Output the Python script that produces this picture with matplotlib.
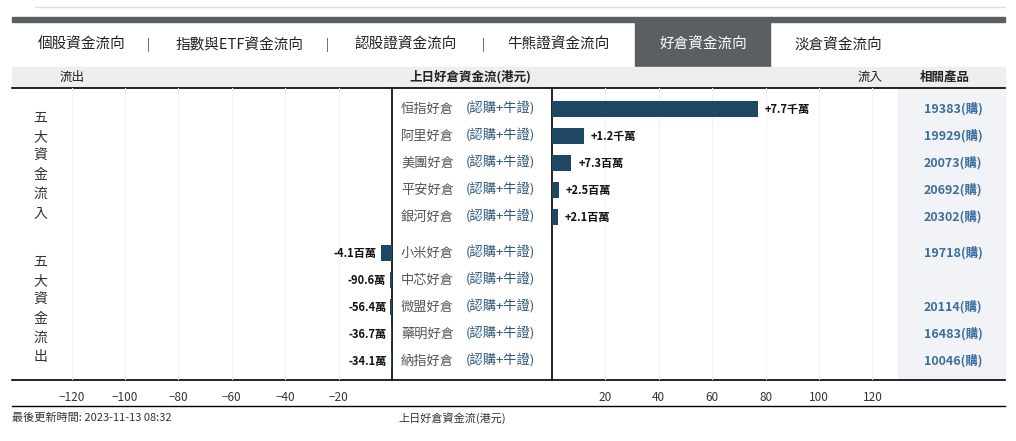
import matplotlib
matplotlib.use("Agg")
import matplotlib.pyplot as plt
from matplotlib.patches import Rectangle

plt.rcParams["font.family"] = ["Noto Sans CJK TC", "DejaVu Sans"]

W, H = 1016, 441

tabs = ["個股資金流向", "指數與ETF資金流向", "認股證資金流向", "牛熊證資金流向", "好倉資金流向", "淡倉資金流向"]
tab_x = [82, 240, 406, 558, 703, 838]
active_tab = 4

in_names = ["恒指好倉", "阿里好倉", "美團好倉", "平安好倉", "銀河好倉"]
in_values = [77.0, 12.0, 7.3, 2.5, 2.1]          # 百萬港元
in_labels = ["+7.7千萬", "+1.2千萬", "+7.3百萬", "+2.5百萬", "+2.1百萬"]
in_products = ["19383(購)", "19929(購)", "20073(購)", "20692(購)", "20302(購)"]

out_names = ["小米好倉", "中芯好倉", "微盟好倉", "藥明好倉", "納指好倉"]
out_values = [-4.1, -0.906, -0.564, -0.367, -0.341]
out_labels = ["-4.1百萬", "-90.6萬", "-56.4萬", "-36.7萬", "-34.1萬"]
out_products = ["19718(購)", "", "20114(購)", "16483(購)", "10046(購)"]

left_ticks = [-120, -100, -80, -60, -40, -20]
right_ticks = [20, 40, 60, 80, 100, 120]

BAR = "#1e4763"
BLUE = "#3d6f9c"

fig = plt.figure(figsize=(W / 100, H / 100), dpi=100)
bg = fig.add_axes([0, 0, 1, 1])
bg.set_xlim(0, W)
bg.set_ylim(H, 0)
bg.axis("off")

# top decorations
bg.plot([35, 1005], [7, 7], color="#dddddd", lw=1)
bg.add_patch(Rectangle((12, 17), 993, 5, color="#5a5f63"))
bg.add_patch(Rectangle((635, 22), 135, 45, color="#5a5f63"))
for i, (t, x) in enumerate(zip(tabs, tab_x)):
    bg.text(x, 45, t, ha="center", va="center", fontsize=10.5,
            color="white" if i == active_tab else "#222222")
for x in [148, 327, 483]:
    bg.text(x, 45, "|", ha="center", va="center", fontsize=9, color="#444444")

# header strip
bg.add_patch(Rectangle((12, 67), 993, 20, color="#eeeeee"))
bg.text(72, 77, "流出", ha="center", va="center", fontsize=9, color="#222222")
bg.text(470, 77, "上日好倉資金流(港元)", ha="center", va="center", fontsize=9, weight="bold", color="#222222")
bg.text(870, 77, "流入", ha="center", va="center", fontsize=9, color="#222222")
bg.text(945, 77, "相關產品", ha="center", va="center", fontsize=9, weight="bold", color="#222222")
bg.add_patch(Rectangle((898, 88), 107, 292, color="#f1f3f6"))
bg.plot([12, 1005], [88, 88], color="black", lw=1.2)
bg.plot([12, 1005], [380, 380], color="black", lw=1.2)
bg.plot([12, 1005], [406, 406], color="black", lw=1)
bg.plot([392, 392], [88, 380], color="black", lw=1.2)
bg.plot([552, 552], [88, 380], color="black", lw=1.2)

# group labels
for j, ch in enumerate("五大資金流入"):
    bg.text(40, 118 + j * 19, ch, ha="center", va="center", fontsize=10, color="#333333")
for j, ch in enumerate("五大資金流出"):
    bg.text(40, 262 + j * 19, ch, ha="center", va="center", fontsize=10, color="#333333")

# row positions (pixel y)
in_y = [109 + 27 * i for i in range(len(in_values))]
out_y = [253 + 27 * i for i in range(len(out_values))]

# data axes: left (outflow) and right (inflow), 2.67 px per unit
lx0, lx1 = 40, 392
rx0, rx1 = 552, 895
scale = 2.67
axl = fig.add_axes([lx0 / W, 1 - 380 / H, (lx1 - lx0) / W, 292 / H])
axr = fig.add_axes([rx0 / W, 1 - 380 / H, (rx1 - rx0) / W, 292 / H])
axl.set_xlim(-(lx1 - lx0) / scale, 0)
axr.set_xlim(0, (rx1 - rx0) / scale)
for ax in (axl, axr):
    ax.set_ylim(380, 88)
    ax.patch.set_alpha(0)
    for s in ax.spines.values():
        s.set_visible(False)
    ax.set_yticks([])
    ax.tick_params(axis="x", length=0, labelsize=8.5, colors="#333333", pad=8)
axl.set_xticks(left_ticks)
axr.set_xticks(right_ticks)
for t in left_ticks:
    axl.axvline(t, color="#f2f2f2", lw=0.8, zorder=0)
for t in right_ticks:
    axr.axvline(t, color="#f2f2f2", lw=0.8, zorder=0)

axr.barh(in_y, in_values, height=16, color=BAR)
for y, v, lab in zip(in_y, in_values, in_labels):
    axr.annotate(lab, (v, y), xytext=(5, 0), textcoords="offset points",
                 ha="left", va="center", fontsize=8, weight="bold", color="#111111")
axl.barh(out_y, out_values, height=16, color=BAR)
for y, v, lab in zip(out_y, out_values, out_labels):
    axl.annotate(lab, (v, y), xytext=(-3, 0), textcoords="offset points",
                 ha="right", va="center", fontsize=8, weight="bold", color="#111111")

# centre labels and products
for names, ys, prods in [(in_names, in_y, in_products), (out_names, out_y, out_products)]:
    for n, y, p in zip(names, ys, prods):
        bg.text(401, y, n, ha="left", va="center", fontsize=9.5, color="#555555")
        bg.text(466, y, "(認購+牛證)", ha="left", va="center", fontsize=9.5, color="#2d5878")
        if p:
            bg.text(953, y, p, ha="center", va="center", fontsize=9, weight="bold", color=BLUE)

# footer
bg.text(12, 418, "最後更新時間: 2023-11-13 08:32", ha="left", va="center", fontsize=8, color="#333333")
bg.text(398, 418, "上日好倉資金流(港元)", ha="left", va="center", fontsize=8, color="#333333")

fig.savefig("out.png", dpi=100)
